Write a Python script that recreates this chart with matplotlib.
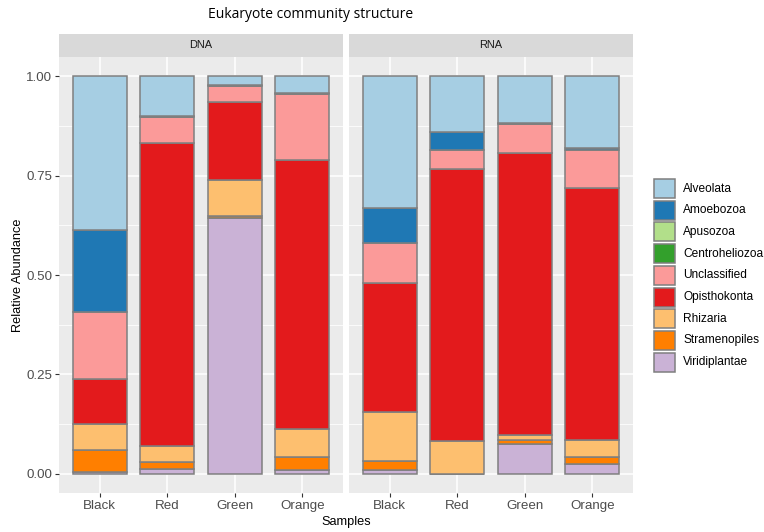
import matplotlib
matplotlib.use("Agg")
import matplotlib.pyplot as plt
from matplotlib.patches import Rectangle
import numpy as np

W, H = 764, 532
plt.rcParams["font.family"] = ["Liberation Sans", "DejaVu Sans"]

SAMPLES = ["Black", "Red", "Green", "Orange"]
FACETS = ["DNA", "RNA"]
TAXA = ["Alveolata", "Amoebozoa", "Apusozoa", "Centroheliozoa", "Unclassified",
        "Opisthokonta", "Rhizaria", "Stramenopiles", "Viridiplantae"]
COLORS = ["#A6CEE3", "#1F78B4", "#B2DF8A", "#33A02C", "#FB9A99",
          "#E31A1C", "#FDBF6F", "#FF7F00", "#CAB2D6"]

# relative abundance per sample (Black, Red, Green, Orange)
DNA = {
    "Alveolata":      [0.387, 0.100, 0.022, 0.042],
    "Amoebozoa":      [0.206, 0.004, 0.004, 0.004],
    "Apusozoa":       [0.000, 0.000, 0.000, 0.000],
    "Centroheliozoa": [0.000, 0.000, 0.000, 0.000],
    "Unclassified":   [0.169, 0.063, 0.040, 0.165],
    "Opisthokonta":   [0.113, 0.763, 0.196, 0.676],
    "Rhizaria":       [0.065, 0.040, 0.090, 0.070],
    "Stramenopiles":  [0.056, 0.017, 0.005, 0.032],
    "Viridiplantae":  [0.004, 0.013, 0.643, 0.011],
}
RNA = {
    "Alveolata":      [0.331, 0.141, 0.117, 0.181],
    "Amoebozoa":      [0.088, 0.045, 0.003, 0.004],
    "Apusozoa":       [0.000, 0.000, 0.000, 0.000],
    "Centroheliozoa": [0.000, 0.000, 0.000, 0.000],
    "Unclassified":   [0.100, 0.047, 0.073, 0.097],
    "Opisthokonta":   [0.325, 0.685, 0.708, 0.633],
    "Rhizaria":       [0.123, 0.082, 0.014, 0.043],
    "Stramenopiles":  [0.024, 0.000, 0.010, 0.016],
    "Viridiplantae":  [0.009, 0.000, 0.075, 0.026],
}
DATA = {"DNA": DNA, "RNA": RNA}

fig = plt.figure(figsize=(W / 100, H / 100), dpi=100)
fig.patch.set_facecolor("white")


def frect(l, t, r, b):
    return [l / W, 1 - b / H, (r - l) / W, (b - t) / H]


panels = [(59, 343), (349, 633)]
x = np.arange(1, len(SAMPLES) + 1)
for k, (facet, (l, r)) in enumerate(zip(FACETS, panels)):
    ax = fig.add_axes(frect(l, 57, r, 493))
    ax.set_facecolor("#EBEBEB")
    bottom = np.zeros(len(SAMPLES))
    # stack from last taxon (bottom) up to first (top)
    for taxon, c in list(zip(TAXA, COLORS))[::-1]:
        vals = np.array(DATA[facet][taxon])
        ax.bar(x, vals, bottom=bottom, width=0.8, color=c, edgecolor="#7F7F7F",
               linewidth=1.1, zorder=3)
        bottom += vals
    ax.set_xlim(0.4, 4.6)
    ax.set_ylim(-0.048, 1.048)
    ax.set_xticks(x)
    ax.set_xticklabels(SAMPLES, fontsize=9.6, color="#4D4D4D")
    ax.set_yticks([0, 0.25, 0.5, 0.75, 1.0])
    ax.set_yticks([0.125, 0.375, 0.625, 0.875], minor=True)
    if k == 0:
        ax.set_yticklabels(["0.00", "0.25", "0.50", "0.75", "1.00"],
                           fontsize=9.6, color="#4D4D4D")
        ax.tick_params(axis="y", length=3, width=0.8, color="#333333", pad=2)
    else:
        ax.set_yticklabels([])
        ax.tick_params(axis="y", length=0)
    ax.tick_params(axis="y", which="minor", length=0)
    ax.tick_params(axis="x", length=3, width=0.8, color="#333333", pad=2)
    ax.grid(True, which="major", color="white", lw=1.1, zorder=0)
    ax.grid(True, which="minor", axis="y", color="white", lw=0.55, zorder=0)
    for s in ax.spines.values():
        s.set_visible(False)
    sax = fig.add_axes(frect(l, 34, r, 57))
    sax.set_facecolor("#D9D9D9")
    sax.set_xticks([]); sax.set_yticks([])
    for s in sax.spines.values():
        s.set_visible(False)
    sax.text(0.5, 0.5, facet, ha="center", va="center", fontsize=7.9,
             color="#1A1A1A", transform=sax.transAxes)

fig.text(311 / W, 1 - 14 / H, "Eukaryote community structure", ha="center",
         va="center", fontsize=10, family=["Open Sans", "DejaVu Sans"])
fig.text(346 / W, 1 - 522 / H, "Samples", ha="center", va="center", fontsize=9.2)
fig.text(18 / W, 1 - 275 / H, "Relative Abundance", ha="center", va="center",
         rotation=90, fontsize=9.2)

# legend
lax = fig.add_axes(frect(640, 170, 764, 390))
lax.set_xlim(640, 764)
lax.set_ylim(390, 170)
lax.axis("off")
for i, (taxon, c) in enumerate(zip(TAXA, COLORS)):
    yc = 188.5 + i * 21.7
    lax.add_patch(Rectangle((654, yc - 9.5), 21, 19, facecolor=c,
                            edgecolor="#7F7F7F", linewidth=1.1))
    lax.text(683, yc, taxon, va="center", ha="left", fontsize=8.6, color="black")

fig.savefig("out.png", dpi=100, facecolor="white")
